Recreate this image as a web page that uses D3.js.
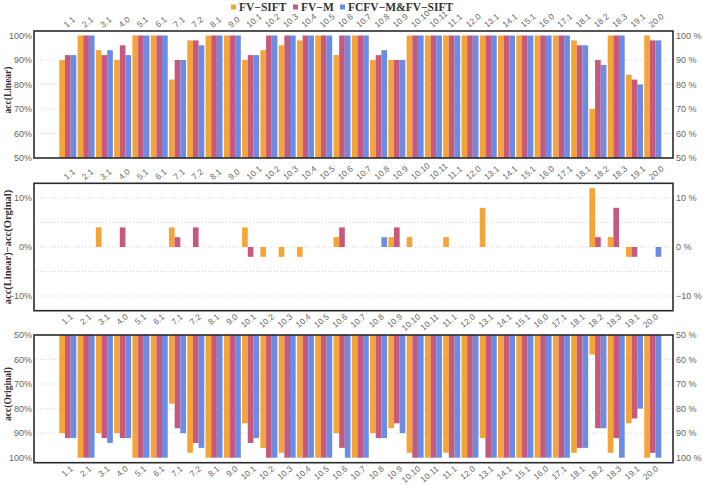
<!DOCTYPE html>
<html>
<head>
<meta charset="utf-8">
<script src="https://cdn.jsdelivr.net/npm/d3@7"></script>
<style>
  html, body { margin: 0; padding: 0; background: #fff; }
  svg { display: block; }
</style>
</head>
<body>
<svg id="chart" width="703" height="485"></svg>
<script>
const categories = ["1.1","2.1","3.1","4.0","5.1","6.1","7.1","7.2","8.1","9.0",
  "10.1","10.2","10.3","10.4","10.5","10.6","10.7","10.8","10.9","10.10","10.11",
  "11.1","12.0","13.1","14.1","15.1","16.0","17.1","18.1","18.2","18.3","19.1","20.0"];
const seriesNames = ["FV\u2212SIFT", "FV\u2212M", "FCFV\u2212M&FV\u2212SIFT"];

// acc(Linear)
const linearFVSIFT = [90,100,94,90,100,100,82,98,100,100, 90,94,96,98,100,92,100,90,90,100,100, 100,100,100,100,100,100,100,98,70,100,84,100];
const linearFVM    = [92,100,92,96,100,100,90,98,100,100, 92,100,100,100,100,100,100,92,90,100,100, 100,100,100,100,100,100,100,96,90,100,82,98];
const linearFCFV   = [92,100,94,92,100,100,90,96,100,100, 92,100,100,100,100,100,100,94,90,100,100, 100,100,100,100,100,100,100,96,88,100,80,98];

// acc(Linear) - acc(Orginal)
const diffFVSIFT = [0,0,4,0,0,0,4,0,0,0, 4,-2,-2,-2,0,2,0,0,2,2,0, 2,0,8,0,0,0,0,0,12,2,-2,0];
const diffFVM    = [0,0,0,4,0,0,2,4,0,0, -2,0,0,0,0,4,0,0,4,0,0, 0,0,0,0,0,0,0,0,2,8,-2,0];
const diffFCFV   = [0,0,0,0,0,0,0,0,0,0, 0,0,0,0,0,0,0,2,0,0,0, 0,0,0,0,0,0,0,0,0,0,0,-2];

// acc(Original)
const origFVSIFT = [90,100,90,90,100,100,78,98,100,100, 86,96,98,100,100,90,100,90,88,98,100, 98,100,92,100,100,100,100,98,58,98,86,100];
const origFVM    = [92,100,92,92,100,100,88,94,100,100, 94,100,100,100,100,96,100,92,86,100,100, 100,100,100,100,100,100,100,96,88,92,84,98];
const origFCFV   = [92,100,94,92,100,100,90,96,100,100, 92,100,100,100,100,100,100,92,90,100,100, 100,100,100,100,100,100,100,96,88,100,80,100];

const accTicks = [50,60,70,80,90,100];
const diffTicks = [-10,0,10];
const diffGrid = [-10,-5,0,5,10];

const colors = ["#f7a436", "#c65a7e", "#6b8ce4"];

const svg = d3.select("#chart");
const L = 34, R = 673;

const x = d3.scaleBand().domain(categories).range([58.66, 661.9]).paddingInner(0.07).paddingOuter(0.035);
const xs = d3.scaleBand().domain([0,1,2]).range([0, x.bandwidth()]);

const panels = [
  { top: 31, bottom: 158, y: d3.scaleLinear().domain([50,100]).range([158,35.5]),
    base: 50, data: [linearFVSIFT, linearFVM, linearFCFV], ticks: accTicks, grid: [60,70,80,90],
    title: "acc(Linear)", tfs: 9.5, ty: 90, fmtL: d => d + "%", fmtR: d => d + " %",
    topLabels: true, bottomLabels: false },
  { top: 183.3, bottom: 310.7, y: d3.scaleLinear().domain([-13,13]).range([310.7,183.3]),
    base: 0, data: [diffFVSIFT, diffFVM, diffFCFV], ticks: diffTicks, grid: diffGrid,
    title: "acc(Linear)\u2212acc(Orginal)", tfs: 10.5, ty: 247,
    fmtL: d => d + "%", fmtR: d => (d < 0 ? "\u2212" + (-d) : d) + " %",
    topLabels: true, bottomLabels: true },
  { top: 335, bottom: 462.7, y: d3.scaleLinear().domain([50,100]).range([335,457.7]),
    base: 50, data: [origFVSIFT, origFVM, origFCFV], ticks: accTicks, grid: [60,70,80,90],
    title: "acc(Original)", tfs: 9.5, ty: 394, fmtL: d => d + "%", fmtR: d => d + " %",
    topLabels: false, bottomLabels: true }
];

const ang = -40;

panels.forEach(p => {
  const g = svg.append("g");
  // grid
  g.selectAll("line.grid").data(p.grid).join("line")
    .attr("x1", L).attr("x2", R)
    .attr("y1", d => p.y(d)).attr("y2", d => p.y(d))
    .attr("stroke", "#cfcfcf").attr("stroke-width", 0.8).attr("stroke-dasharray", "1,2");
  // bars
  p.data.forEach((arr, si) => {
    g.selectAll("rect.s" + si).data(arr).join("rect")
      .attr("x", (d, i) => x(categories[i]) + xs(si))
      .attr("width", xs.bandwidth())
      .attr("y", d => Math.min(p.y(d), p.y(p.base)))
      .attr("height", d => Math.abs(p.y(d) - p.y(p.base)))
      .attr("fill", colors[si]);
  });
  // frame
  g.append("rect").attr("x", L).attr("y", p.top).attr("width", R - L).attr("height", p.bottom - p.top)
    .attr("fill", "none").attr("stroke", "#2b2b2b").attr("stroke-width", 1.6);
  // y labels
  g.selectAll("text.yl").data(p.ticks).join("text")
    .attr("x", 32).attr("y", d => p.y(d)).attr("dy", "0.35em")
    .attr("text-anchor", "end").attr("font-family", "Liberation Sans, Arial, sans-serif")
    .attr("font-size", 9).attr("fill", "#666").text(p.fmtL);
  g.selectAll("text.yr").data(p.ticks).join("text")
    .attr("x", 676).attr("y", d => p.y(d)).attr("dy", "0.35em")
    .attr("text-anchor", "start").attr("font-family", "Liberation Sans, Arial, sans-serif")
    .attr("font-size", 9).attr("fill", "#666").text(p.fmtR);
  // x labels
  if (p.topLabels) {
    g.selectAll("text.xt").data(categories).join("text")
      .attr("transform", d => `translate(${x(d) + x.bandwidth()/2 - 1},${p.top - 3}) rotate(${ang})`)
      .attr("text-anchor", "start").attr("font-family", "Liberation Sans, Arial, sans-serif")
      .attr("font-size", 8.5).attr("fill", "#666").text(d => d);
  }
  if (p.bottomLabels) {
    g.selectAll("text.xb").data(categories).join("text")
      .attr("transform", d => `translate(${x(d) + x.bandwidth()/2 + 6},${p.bottom + 7}) rotate(${ang})`)
      .attr("text-anchor", "end").attr("font-family", "Liberation Sans, Arial, sans-serif")
      .attr("font-size", 8.5).attr("fill", "#666").text(d => d);
  }
  // title
  g.append("text").attr("transform", `translate(11,${p.ty}) rotate(-90)`)
    .attr("text-anchor", "middle").attr("font-family", "Liberation Serif, Times New Roman, serif")
    .attr("font-weight", "bold").attr("font-size", p.tfs).attr("fill", "#333").text(p.title);
});

// legend
const legX = [231, 293, 340];
const leg = svg.append("g");
seriesNames.forEach((n, i) => {
  leg.append("rect").attr("x", legX[i]).attr("y", 4.5).attr("width", 5).attr("height", 5).attr("fill", colors[i]);
  leg.append("text").attr("x", legX[i] + 8).attr("y", 10.5)
    .attr("font-family", "Liberation Serif, Times New Roman, serif").attr("font-weight", "bold")
    .attr("font-size", 11.5).attr("fill", "#333").text(n);
});
</script>
</body>
</html>
